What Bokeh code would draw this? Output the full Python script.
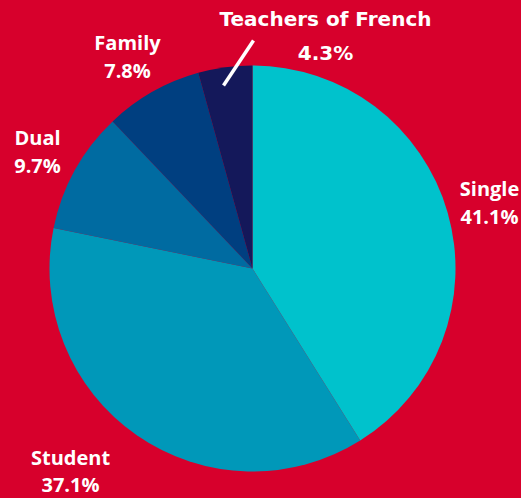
import numpy as np
from bokeh.plotting import figure
from bokeh.models import ColumnDataSource
from bokeh.core.properties import value
from bokeh.embed import file_html
from bokeh.resources import INLINE

# ---- data ----
categories = ["Single", "Student", "Dual", "Family", "Teachers of French"]
shares = [41.1, 37.1, 9.7, 7.8, 4.3]
colors = ["#00c2cc", "#0098b9", "#006ba1", "#003f80", "#14185a"]

BG = "#d7002c"
W, H = 521, 498
OFF = 0
SCREEN_H = 498

def up(y_screen):
    return SCREEN_H - y_screen

p = figure(width=W, height=H, output_backend="svg", toolbar_location=None,
           x_range=(OFF, OFF + W), y_range=(SCREEN_H - OFF - H, SCREEN_H - OFF),
           min_border=0, outline_line_color=None,
           background_fill_color=BG, border_fill_color=BG)
p.axis.visible = False
p.grid.visible = False

# pie
vals = np.array(shares)
frac = vals / vals.sum()
cum_end = np.cumsum(frac)
cum_start = cum_end - frac
start = np.pi / 2 - 2 * np.pi * cum_end
end = np.pi / 2 - 2 * np.pi * cum_start
cx, cy, r = 252, up(268), 203
src = ColumnDataSource(dict(cat=categories, start=start, end=end, color=colors))
p.wedge(x=cx, y=cy, radius=r, start_angle="start", end_angle="end",
        fill_color="color", line_color=None, source=src)

# labels (positions are layout)
name_pos = {"Single": (489, 188), "Student": (70, 457), "Dual": (37, 137),
            "Family": (127, 42), "Teachers of French": (325, 18)}
pct_pos = {"Single": (489, 216), "Student": (70, 484), "Dual": (37, 165),
           "Family": (127, 70), "Teachers of French": (325, 52)}

for c, s in zip(categories, shares):
    font = "DejaVu Sans" if c == "Teachers of French" else "Open Sans"
    nx, ny = name_pos[c]
    px, py = pct_pos[c]
    p.text(x=[nx], y=[up(ny)], text=[c], text_color="white",
           text_font=value(font), text_font_style="bold", text_font_size="20px",
           text_align="center", text_baseline="middle")
    p.text(x=[px], y=[up(py)], text=[f"{s}%"], text_color="white",
           text_font=value(font), text_font_style="bold", text_font_size="20px",
           text_align="center", text_baseline="middle")

# leader line for the small slice
p.segment(x0=[253], y0=[up(40)], x1=[223], y1=[up(85)], line_color="white", line_width=3.5)

html = file_html(p, INLINE)
html = html.replace("<head>", "<head><style>html,body{background:%s;margin:0;}</style>" % BG, 1)
open("out.html", "w").write(html)
